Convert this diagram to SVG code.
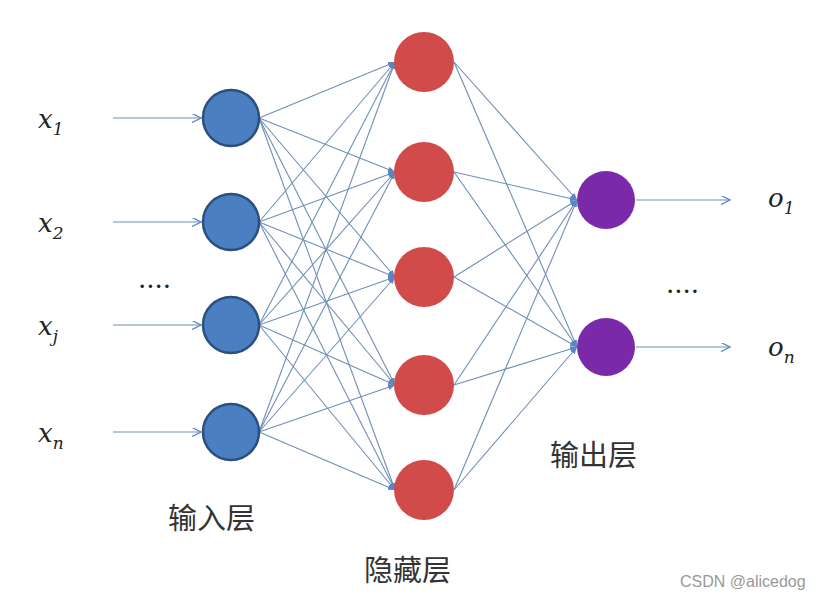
<svg xmlns="http://www.w3.org/2000/svg" width="835" height="601" viewBox="0 0 835 601">
<defs>
<marker id="a" viewBox="0 0 10 10" refX="10" refY="5" markerWidth="7" markerHeight="7" orient="auto" markerUnits="userSpaceOnUse"><path d="M0,1 L10,5 L0,9 z" fill="#5b86c4"/></marker>
<marker id="b" viewBox="0 0 10 10" refX="10" refY="5" markerWidth="12" markerHeight="9" orient="auto" markerUnits="userSpaceOnUse"><path d="M0,0 L10,5 L0,10" fill="none" stroke="#5b86c4" stroke-width="1.5"/></marker>
</defs>
<style>
.c line{stroke:#6f8fb8;stroke-width:1.1;marker-end:url(#a)}
.c .io{marker-end:url(#b);stroke:#6f8fb8}
.in{fill:#4a7fc1;stroke:#2c4f7c;stroke-width:2.5}
.hd{fill:#d24b4b}
.ot{fill:#7a2aa8}
.m{font-family:"DejaVu Serif",serif;font-style:italic;font-size:26px;fill:#222}
.s{font-family:"DejaVu Serif",serif;font-size:17px;fill:#222}
.si{font-family:"DejaVu Serif",serif;font-style:italic;font-size:17px;fill:#222}
.z{font-family:"Noto Sans CJK SC",sans-serif;font-size:29px;fill:#333}
</style>
<rect width="835" height="601" fill="#fff"/>
<g class="c" id="connectors">
<line class="io" x1="113" y1="118" x2="201" y2="118"/>
<line class="io" x1="113" y1="222" x2="201" y2="222"/>
<line class="io" x1="113" y1="325" x2="201" y2="325"/>
<line class="io" x1="113" y1="432" x2="201" y2="432"/>
<line class="io" x1="636" y1="200" x2="730" y2="200"/>
<line class="io" x1="636" y1="347" x2="730" y2="347"/>
<line x1="259" y1="118" x2="395" y2="62"/><line x1="259" y1="118" x2="395" y2="172"/><line x1="259" y1="118" x2="395" y2="277"/><line x1="259" y1="118" x2="395" y2="385"/><line x1="259" y1="118" x2="395" y2="490"/>
<line x1="259" y1="222" x2="395" y2="62"/><line x1="259" y1="222" x2="395" y2="172"/><line x1="259" y1="222" x2="395" y2="277"/><line x1="259" y1="222" x2="395" y2="385"/><line x1="259" y1="222" x2="395" y2="490"/>
<line x1="259" y1="325" x2="395" y2="62"/><line x1="259" y1="325" x2="395" y2="172"/><line x1="259" y1="325" x2="395" y2="277"/><line x1="259" y1="325" x2="395" y2="385"/><line x1="259" y1="325" x2="395" y2="490"/>
<line x1="259" y1="432" x2="395" y2="62"/><line x1="259" y1="432" x2="395" y2="172"/><line x1="259" y1="432" x2="395" y2="277"/><line x1="259" y1="432" x2="395" y2="385"/><line x1="259" y1="432" x2="395" y2="490"/>
<line x1="454" y1="62" x2="577" y2="200"/><line x1="454" y1="62" x2="577" y2="347"/>
<line x1="454" y1="172" x2="577" y2="200"/><line x1="454" y1="172" x2="577" y2="347"/>
<line x1="454" y1="277" x2="577" y2="200"/><line x1="454" y1="277" x2="577" y2="347"/>
<line x1="454" y1="385" x2="577" y2="200"/><line x1="454" y1="385" x2="577" y2="347"/>
<line x1="454" y1="490" x2="577" y2="200"/><line x1="454" y1="490" x2="577" y2="347"/>
</g>
<g id="i1"><circle class="in" cx="231" cy="118" r="28"/></g>
<g id="i2"><circle class="in" cx="231" cy="222" r="28"/></g>
<g id="i3"><circle class="in" cx="231" cy="325" r="28"/></g>
<g id="i4"><circle class="in" cx="231" cy="432" r="28"/></g>
<g id="h1"><circle class="hd" cx="424" cy="62" r="30"/></g>
<g id="h2"><circle class="hd" cx="424" cy="172" r="30"/></g>
<g id="h3"><circle class="hd" cx="424" cy="277" r="30"/></g>
<g id="h4"><circle class="hd" cx="424" cy="385" r="30"/></g>
<g id="h5"><circle class="hd" cx="424" cy="490" r="30"/></g>
<g id="o1n"><circle class="ot" cx="606" cy="200" r="29"/></g>
<g id="o2n"><circle class="ot" cx="606" cy="347" r="29"/></g>
<g id="labels">
<text class="m" x="38" y="128">x<tspan class="s" dy="7">1</tspan></text>
<text class="m" x="38" y="232">x<tspan class="s" dy="7">2</tspan></text>
<text class="m" x="38" y="335">x<tspan class="si" dy="7">j</tspan></text>
<text class="m" x="38" y="442">x<tspan class="si" dy="7">n</tspan></text>
<text class="m" x="138" y="288" style="font-style:normal">....</text>
<text class="m" x="666" y="293" style="font-style:normal">....</text>
<text class="m" x="768" y="207">o<tspan class="s" dy="7">1</tspan></text>
<text class="m" x="768" y="356">o<tspan class="si" dy="7">n</tspan></text>
<text class="z" x="168" y="529">输入层</text>
<text class="z" x="364" y="581">隐藏层</text>
<text class="z" x="550" y="466">输出层</text>
<text x="680" y="587" style="font-family:'Liberation Sans',sans-serif;font-size:16px;fill:#999">CSDN @alicedog</text>
</g>
</svg>
